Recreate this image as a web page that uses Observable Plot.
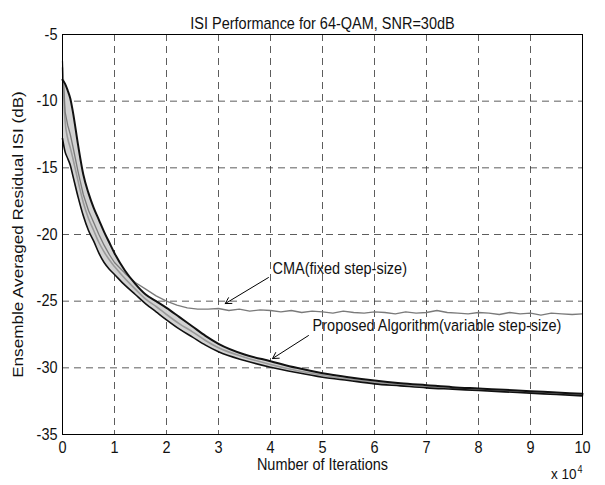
<!DOCTYPE html>
<html>
<head>
<meta charset="utf-8">
<script src="https://cdn.jsdelivr.net/npm/d3@7"></script>
<script src="https://cdn.jsdelivr.net/npm/@observablehq/plot@0.6"></script>
<style>
  html, body { margin: 0; padding: 0; background: white; }
  svg { display: block; }
</style>
</head>
<body>
<div id="chart"></div>
<script>
// ---- data (iterations in units of 10^4) ----
const xTicks = [0, 1, 2, 3, 4, 5, 6, 7, 8, 9, 10];
const yTicks = [-35, -30, -25, -20, -15, -10, -5];

const iterX = [0, 0.05, 0.1, 0.15, 0.2, 0.3, 0.4, 0.5, 0.6, 0.7, 0.8, 0.9, 1.0, 1.2, 1.4, 1.6, 1.8, 2.0,
  2.25, 2.5, 2.75, 3.0, 3.5, 4, 4.5, 5, 5.5, 6, 6.5, 7, 7.5, 8, 8.5, 9, 9.5, 10];
const proposedUpper = [-8.4, -8.7, -9.2, -9.8, -10.8, -13.3, -15.5, -16.9, -18.0, -18.9, -19.8, -20.6, -21.4,
  -22.7, -23.7, -24.5, -25.0, -25.5, -26.2, -26.9, -27.6, -28.2, -29.0, -29.5, -30.0, -30.4, -30.7, -30.95,
  -31.15, -31.3, -31.45, -31.55, -31.65, -31.75, -31.85, -31.95];
const proposedLower = [-12.8, -13.8, -14.3, -14.8, -15.6, -17.2, -18.6, -19.7, -20.5, -21.4, -22.1, -22.6, -23.0,
  -23.8, -24.5, -25.2, -25.8, -26.4, -27.1, -27.7, -28.3, -28.8, -29.45, -29.95, -30.35, -30.7, -30.95, -31.2,
  -31.35, -31.5, -31.6, -31.7, -31.8, -31.9, -32.0, -32.1];
const proposedMid = [-7.5, -11.5, -12.8, -13.5, -14.3, -16.0, -17.6, -18.8, -19.7, -20.6, -21.3, -21.9, -22.4,
  -23.3, -24.1, -24.85, -25.4, -26.0, -26.7, -27.3, -27.95, -28.5, -29.2, -29.75, -30.2, -30.55, -30.85, -31.08,
  -31.25, -31.4, -31.52, -31.62, -31.72, -31.82, -31.92, -32.02];

const cmaX = [0, 0.05, 0.1, 0.15, 0.2, 0.3, 0.4, 0.5, 0.6, 0.7, 0.8, 0.9, 1.0, 1.2, 1.4, 1.6, 1.8, 2.0,
  2.2, 2.4, 2.6, 2.8, 3.0, 3.2, 3.4, 3.6, 3.8, 4.0, 4.2, 4.4, 4.6, 4.8, 5.0, 5.2, 5.4, 5.6, 5.8, 6.0,
  6.2, 6.4, 6.6, 6.8, 7.0, 7.2, 7.4, 7.6, 7.8, 8.0, 8.2, 8.4, 8.6, 8.8, 9.0, 9.2, 9.4, 9.6, 9.8, 10];
const cmaY = [-7.0, -10.8, -11.8, -12.5, -13.4, -15.3, -17.0, -18.2, -19.1, -20.0, -20.8, -21.5, -22.1,
  -22.9, -23.6, -24.1, -24.6, -25.0,
  -25.3, -25.5, -25.6, -25.6, -25.55, -25.7, -25.6, -25.75, -25.65, -25.7,
  -25.8, -25.7, -25.85, -25.75, -25.8, -25.9, -25.75, -25.85, -25.9, -25.8,
  -25.85, -25.95, -25.8, -25.9, -25.85, -25.7, -25.85, -25.9, -25.95, -25.85,
  -25.9, -26.0, -25.85, -25.95, -25.9, -26.05, -25.9, -25.95, -26.0, -25.95];

const noteLabels = ["CMA(fixed step-size)", "Proposed Algorithm(variable step-size)"];
const noteX = [4.04, 4.81];
const noteY = [-22.55, -26.83];
const arrowX1 = [3.96, 4.73];
const arrowY1 = [-23.23, -27.58];
const arrowX2 = [3.13, 4.04];
const arrowY2 = [-25.18, -29.3];

const titleText = "ISI Performance for 64-QAM, SNR=30dB";
const xLabel = "Number of Iterations";
const yLabel = "Ensemble Averaged Residual ISI (dB)";

// ---- tables built from arrays ----
const band = iterX.map((x, i) => ({x, lo: proposedLower[i], hi: proposedUpper[i], mid: proposedMid[i]}));
const cma = cmaX.slice(0, Math.min(cmaX.length, cmaY.length)).map((x, i) => ({x, y: cmaY[i]}));
const notes = noteLabels.map((t, i) => ({t, x: noteX[i], y: noteY[i]}));
const arrows = arrowX1.map((x1, i) => ({x1, y1: arrowY1[i], x2: arrowX2[i], y2: arrowY2[i]}));

const fmt = d => String(d);
const FS = 14.5;

const chart = Plot.plot({
  width: 605,
  height: 485,
  marginLeft: 62,
  marginRight: 23,
  marginTop: 34,
  marginBottom: 51,
  style: {fontFamily: "'Liberation Sans', Arial, sans-serif", fontSize: FS + "px", background: "white", color: "#111"},
  x: {domain: [0, 10]},
  y: {domain: [-35, -5]},
  marks: [
    Plot.ruleX(xTicks.slice(1, -1), {stroke: "#333", strokeWidth: 0.8, strokeDasharray: "7,5"}),
    Plot.ruleY(yTicks.slice(1, -1), {stroke: "#333", strokeWidth: 0.8, strokeDasharray: "7,5"}),
    Plot.areaY(band, {x: "x", y1: "lo", y2: "hi", fill: "#d2d2d2", curve: "monotone-x"}),
    Plot.line(band, {x: "x", y: "mid", stroke: "#9a9a9a", strokeWidth: 1.6, curve: "monotone-x"}),
    Plot.line(cma, {x: "x", y: "y", stroke: "#7a7a7a", strokeWidth: 1.3}),
    Plot.line(band, {x: "x", y: "lo", stroke: "#111", strokeWidth: 1.6, curve: "monotone-x"}),
    Plot.line(band, {x: "x", y: "hi", stroke: "#111", strokeWidth: 2, curve: "monotone-x"}),
    Plot.frame({stroke: "black", strokeWidth: 1}),
    Plot.axisX({ticks: xTicks, tickSize: 0, tickPadding: 7, tickFormat: fmt, label: null, fontSize: FS}),
    Plot.axisY({ticks: yTicks, tickSize: 0, tickPadding: 5, tickFormat: fmt, label: null, fontSize: FS}),
    Plot.arrow(arrows, {x1: "x1", y1: "y1", x2: "x2", y2: "y2", stroke: "black", strokeWidth: 1, headLength: 10}),
    Plot.text(notes, {x: "x", y: "y", text: "t", textAnchor: "start", fontSize: FS}),
    Plot.text([titleText], {frameAnchor: "top", dy: -17, fontSize: FS}),
    Plot.text([xLabel], {frameAnchor: "bottom", dy: 35, fontSize: FS}),
    Plot.text([yLabel], {frameAnchor: "left", textAnchor: "middle", dx: -44, rotate: -90, fontSize: FS}),
    Plot.text(["x 10"], {frameAnchor: "bottom-right", textAnchor: "end", dx: -6, dy: 44, fontSize: FS - 1}),
    Plot.text(["4"], {frameAnchor: "bottom-right", textAnchor: "start", dx: -5, dy: 38, fontSize: 9})
  ]
});
// the reference figure is stretched vertically: stretch text glyphs the same way
d3.select(chart).selectAll("text").each(function () {
  const t = this.getAttribute("transform");
  if (!t || !t.includes("translate")) return;
  this.setAttribute("transform", t + (t.includes("rotate") ? " scale(1.18,1)" : " scale(1,1.12)"));
});
document.getElementById("chart").appendChild(chart);
</script>
</body>
</html>
